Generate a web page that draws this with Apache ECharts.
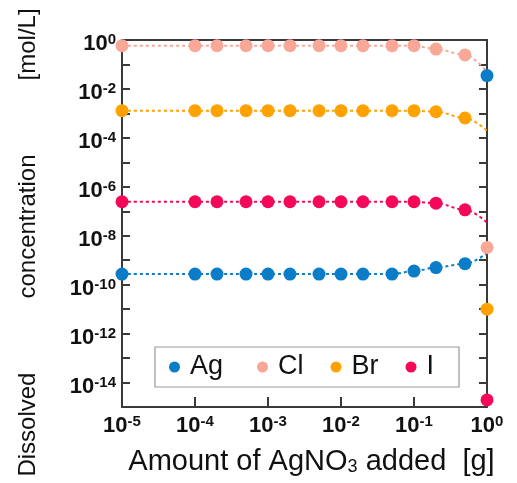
<!DOCTYPE html>
<html>
<head>
<meta charset="utf-8">
<script src="https://cdn.jsdelivr.net/npm/echarts@6/dist/echarts.min.js"></script>
<style>html,body{margin:0;padding:0;background:#fff;}#c{width:517px;height:483px;}</style>
</head>
<body>
<div id="c"></div>
<script>
// ---- data ----
const seriesNames = ['Ag', 'Cl', 'Br', 'I'];
const seriesColors = ['#0a7cc8', '#f9a898', '#ffa200', '#f5075a'];
const amountAdded = [1e-5, 1e-4, 2e-4, 5e-4, 1e-3, 2e-3, 5e-3, 1e-2, 2e-2, 5e-2, 0.1, 0.2, 0.5];
const agValues = [2.7e-10, 2.7e-10, 2.7e-10, 2.7e-10, 2.7e-10, 2.7e-10, 2.7e-10, 2.7e-10, 2.7e-10, 2.7e-10, 3.6e-10, 5.0e-10, 7.2e-10];
const clValues = [0.585, 0.585, 0.585, 0.585, 0.585, 0.585, 0.585, 0.585, 0.585, 0.585, 0.585, 0.427, 0.245];
const brValues = [1.29e-3, 1.29e-3, 1.29e-3, 1.29e-3, 1.29e-3, 1.29e-3, 1.29e-3, 1.29e-3, 1.29e-3, 1.29e-3, 1.29e-3, 1.17e-3, 6.5e-4];
const iValues = [2.45e-7, 2.45e-7, 2.45e-7, 2.45e-7, 2.45e-7, 2.45e-7, 2.45e-7, 2.45e-7, 2.45e-7, 2.45e-7, 2.45e-7, 2.14e-7, 1.15e-7];
// curve end values at 1 g (Ag, Cl, Br, I)
const endAmount = 1;
const curveEndValues = [1.9e-9, 0.05, 1.95e-4, 3.5e-8];
// measured points at 1 g (Ag, Cl, Br, I)
const finalValues = [0.035, 3.3e-9, 1.0e-11, 1.95e-15];
const xTickExponents = [-5, -4, -3, -2, -1, 0];
const yTickExponents = [0, -2, -4, -6, -8, -10, -12, -14];

// ---- chart ----
const FONT = '"Liberation Sans", Arial, Helvetica, sans-serif';
const allValues = [agValues, clValues, brValues, iValues];
const chart = echarts.init(document.getElementById('c'), null, {renderer: 'canvas'});

function expOf(v) { return Math.round(Math.log10(v)); }
const richLabel = {
  b: {fontSize: 22, fontWeight: 'bold', color: '#111', fontFamily: FONT, lineHeight: 23},
  s: {fontSize: 15, fontWeight: 'bold', color: '#111', fontFamily: FONT, verticalAlign: 'top', lineHeight: 15}
};

const series = [];
seriesNames.forEach((name, k) => {
  const lineData = amountAdded.map((x, i) => [x, allValues[k][i]]);
  lineData.push([endAmount, curveEndValues[k]]);
  series.push({
    name: name + ' curve', type: 'line', data: lineData, showSymbol: false, symbol: 'none',
    smooth: 0.35, smoothMonotone: 'x', z: 2, silent: true,
    lineStyle: {color: seriesColors[k], width: 2, type: [3, 3]}
  });
});
seriesNames.forEach((name, k) => {
  const pts = amountAdded.map((x, i) => [x, allValues[k][i]]);
  pts.push([endAmount, finalValues[k]]);
  series.push({
    name: name, type: 'scatter', data: pts, symbol: 'circle', symbolSize: 13, z: 5,
    itemStyle: {color: seriesColors[k], opacity: 1}
  });
});

const legendData = seriesNames.map((n, k) => (k === 0 ? {name: n, textStyle: {padding: [0, 7, 0, 5]}} : {name: n}));

const option = {
  animation: false,
  backgroundColor: '#fff',
  grid: {left: 122, right: 30, top: 40, bottom: 76, containLabel: false, outerBoundsMode: 'none'},
  legend: {
    data: legendData, left: 155, top: 347, orient: 'horizontal',
    icon: 'circle', itemWidth: 11, itemHeight: 11, itemGap: 27,
    padding: [5, 25, 5, 14],
    borderColor: '#999', borderWidth: 1.2, backgroundColor: '#fff',
    textStyle: {fontSize: 27, fontFamily: FONT, color: '#111', padding: [0, 0, 0, 5], lineHeight: 30}
  },
  xAxis: [{
    type: 'log', logBase: 10, min: 1e-5, max: 1, splitNumber: 5, interval: 1, position: 'bottom',
    name: '{t|Amount of AgNO}{sub|3}{t| added  [g]}', nameLocation: 'middle', nameGap: 40,
    nameTextStyle: {
      rich: {
        t: {fontSize: 29, fontFamily: FONT, color: '#111'},
        sub: {fontSize: 18, fontFamily: FONT, color: '#111', verticalAlign: 'bottom', padding: [8, 0, 0, 0]}
      },
      padding: [0, 0, 0, 14]
    },
    axisLine: {show: true, onZero: false, lineStyle: {color: '#3a3a3a', width: 2}},
    axisTick: {show: true, inside: true, length: 10, lineStyle: {color: '#3a3a3a', width: 2}},
    minorTick: {show: false},
    splitLine: {show: false},
    axisLabel: {
      margin: 7, rich: richLabel, showMinLabel: true, showMaxLabel: true,
      formatter: v => '{b|10}{s|' + expOf(v) + '}'
    }
  }, {
    type: 'log', logBase: 10, min: 1e-5, max: 1, interval: 1, position: 'top',
    axisLine: {show: true, onZero: false, lineStyle: {color: '#3a3a3a', width: 2}},
    axisTick: {show: false}, axisLabel: {show: false}, splitLine: {show: false}
  }],
  yAxis: [{
    type: 'log', logBase: 10, min: 1e-15, max: 1, splitNumber: 15, interval: 1, position: 'left',
    name: '{t|Dissolved}{g|}{t|concentration}{g|}{t|[mol/L]}{e|}',
    nameLocation: 'middle', nameGap: 82, nameRotate: 90,
    nameTextStyle: {
      rich: {
        t: {fontSize: 24, fontFamily: FONT, color: '#111'},
        g: {width: 74},
        e: {width: 38}
      }
    },
    axisLine: {show: true, onZero: false, lineStyle: {color: '#3a3a3a', width: 2}},
    axisTick: {show: true, inside: true, length: 8, lineStyle: {color: '#3a3a3a', width: 2}},
    minorTick: {show: false},
    splitLine: {show: false},
    axisLabel: {
      margin: 6, rich: richLabel, padding: [8, 0, 0, 0], showMinLabel: true, showMaxLabel: true,
      formatter: v => { const e = expOf(v); return (yTickExponents.indexOf(e) >= 0) ? '{b|10}{s|' + e + '}' : ''; }
    }
  }, {
    type: 'log', logBase: 10, min: 1e-15, max: 1, splitNumber: 15, interval: 1, position: 'right',
    axisLine: {show: true, onZero: false, lineStyle: {color: '#3a3a3a', width: 2}},
    axisTick: {show: true, inside: true, length: 8, lineStyle: {color: '#3a3a3a', width: 2}},
    axisLabel: {show: false}, splitLine: {show: false}
  }],
  series: series
};
chart.setOption(option);
</script>
</body>
</html>
